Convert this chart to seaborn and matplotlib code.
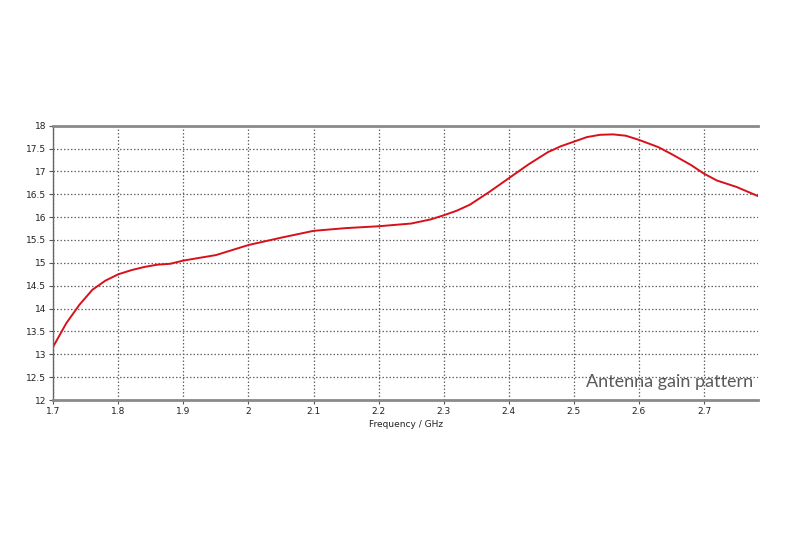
import matplotlib
matplotlib.use("Agg")
import matplotlib.pyplot as plt
import seaborn as sns
import pandas as pd

freq_ghz = [1.70, 1.72, 1.74, 1.76, 1.78, 1.80, 1.82, 1.84, 1.86, 1.88, 1.90, 1.95,
            2.00, 2.05, 2.10, 2.15, 2.20, 2.25, 2.28, 2.30, 2.32, 2.34, 2.37, 2.40,
            2.43, 2.46, 2.48, 2.50, 2.52, 2.54, 2.56, 2.58, 2.60, 2.63, 2.65, 2.68,
            2.70, 2.72, 2.75, 2.783]
gain = [13.17, 13.68, 14.08, 14.41, 14.61, 14.75, 14.84, 14.91, 14.96, 14.98, 15.05, 15.17,
        15.39, 15.55, 15.70, 15.76, 15.80, 15.86, 15.95, 16.04, 16.14, 16.27, 16.55, 16.85,
        17.15, 17.42, 17.55, 17.65, 17.75, 17.80, 17.81, 17.78, 17.69, 17.53, 17.38, 17.14,
        16.95, 16.80, 16.66, 16.46]
x_ticks = [1.7, 1.8, 1.9, 2.0, 2.1, 2.2, 2.3, 2.4, 2.5, 2.6, 2.7]
x_tick_labels = ["1.7", "1.8", "1.9", "2", "2.1", "2.2", "2.3", "2.4", "2.5", "2.6", "2.7"]
y_ticks = [12, 12.5, 13, 13.5, 14, 14.5, 15, 15.5, 16, 16.5, 17, 17.5, 18]
y_tick_labels = ["12", "12.5", "13", "13.5", "14", "14.5", "15", "15.5", "16", "16.5", "17", "17.5", "18"]

df = pd.DataFrame({"Frequency": freq_ghz, "Gain": gain})

sns.set_theme(style="white")
plt.rcParams['font.family'] = ['DejaVu Sans']

fig = plt.figure(figsize=(8, 5.5), dpi=100)
ax = fig.add_axes([0.0666, 0.2727, 0.8809, 0.4988])

sns.lineplot(data=df, x="Frequency", y="Gain", ax=ax, color="#d8101a", linewidth=1.4)

ax.set_xlim(1.7, 2.783)
ax.set_ylim(12, 18)
ax.set_xticks(x_ticks)
ax.set_xticklabels(x_tick_labels, fontsize=6.5, color="#222222")
ax.set_yticks(y_ticks)
ax.set_yticklabels(y_tick_labels, fontsize=6.5, color="#222222")
ax.grid(True, linestyle=(0, (1.2, 1.6)), color="#666666", linewidth=0.9)
ax.tick_params(axis="both", length=3, width=0.8, color="#555555", pad=2,
               bottom=True, left=True)
ax.set_xlabel("Frequency / GHz", fontsize=6.5, color="#222222", labelpad=3)
ax.set_ylabel("")

for side in ["top", "bottom"]:
    ax.spines[side].set_color("#8a8a8a")
    ax.spines[side].set_linewidth(2)
ax.spines["left"].set_color("#666666")
ax.spines["left"].set_linewidth(1)
ax.spines["right"].set_visible(False)

ax.text(0.993, 0.036, "Antenna gain pattern", transform=ax.transAxes,
        ha="right", va="bottom", fontsize=13, color="#5a5a5a",
        family=["Lato", "DejaVu Sans"], fontweight="normal")

fig.savefig("out.png", dpi=100, facecolor="white")
